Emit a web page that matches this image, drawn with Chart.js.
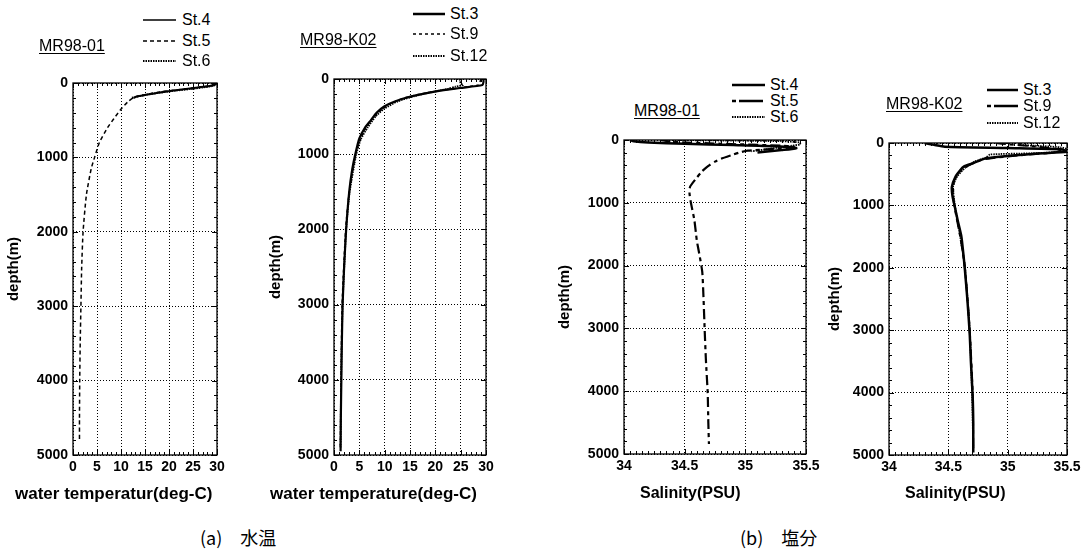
<!DOCTYPE html>
<html><head><meta charset="utf-8">
<script src="https://cdn.jsdelivr.net/npm/chart.js@4"></script>
<style>
body{margin:0;width:1089px;height:550px;background:#fff;position:relative;overflow:hidden;font-family:"Liberation Sans",Arial,sans-serif;}
canvas{position:absolute}
.t{position:absolute;white-space:nowrap;color:#000;line-height:1}
.u{text-decoration:underline;text-underline-offset:2px;font-size:16px}
.lg{font-size:16px}
.xt{font-weight:bold}
.cap{font-family:"Noto Sans CJK JP","Liberation Sans",sans-serif;font-size:18px}
svg{position:absolute}
</style></head><body>
<canvas id="c1"></canvas><canvas id="c2"></canvas><canvas id="c3"></canvas><canvas id="c4"></canvas>
<script>
// ---------- tick labels ----------
const tempTicks = ['0','5','10','15','20','25','30'];
const salTicks = ['34','34.5','35','35.5'];
const depthTicks = ['0','1000','2000','3000','4000','5000'];

// ---------- (a) water temperature, MR98-01 ----------
const p1St4Depth = [0,20,40,60,80,100,120,150,180,200];
const p1St4Temp  = [29.8,29.6,28.5,26.0,23.5,21.0,18.8,15.8,13.5,12.6];
const p1St5Depth = [0,30,60,90,120,160,190,255,360,480,600,800,1000,1150,1500,2000,2500,3000,3500,4000,4500,4800];
const p1St5Temp  = [29.5,29.0,26.0,22.0,18.2,14.7,12.8,11.4,9.9,8.5,7.2,5.5,4.5,3.8,2.8,2.1,1.8,1.65,1.5,1.4,1.35,1.35];
const p1St6Depth = [0,20,40,60,80,100,130,160,200];
const p1St6Temp  = [29.9,29.7,29.0,27.0,24.5,21.5,18.0,15.0,12.2];

// ---------- (a) water temperature, MR98-K02 ----------
const p2St3Depth = [0,40,80,120,167,233,300,366,450,546,650,790,1000,1200,1500,2000,2500,3000,3500,4000,4500,4950];
const p2St3Temp  = [29.5,29.5,29.3,24.9,19.9,15.1,12.0,9.9,8.4,7.3,6.1,5.0,4.2,3.6,3.0,2.4,2.0,1.7,1.55,1.45,1.35,1.3];
const p2St9Depth = [0,40,80,110,150,200,260,340,430,530,650,800,1000,1500,2000,3000,4000,4900];
const p2St9Temp  = [29.0,28.8,28.5,25.5,21.5,17.0,13.5,10.8,9.0,7.6,6.3,5.2,4.3,3.0,2.3,1.6,1.4,1.25];
const p2St12Depth = [0,30,60,80,100,130,170,230,300,400,500,650,800,1000,1500,2000,3000,4000,4900];
const p2St12Temp  = [24.8,24.9,25.0,25.5,24.0,22.5,19.5,15.8,12.5,9.8,8.2,6.6,5.3,4.4,3.1,2.4,1.7,1.4,1.3];

// ---------- (b) salinity, MR98-01 ----------
const p3St4Depth = [0,20,40,60,80,100,130,160,200];
const p3St4Sal   = [34.05,34.08,34.2,34.5,34.9,35.25,35.42,35.3,35.1];
const p3St5Depth = [0,30,60,90,110,140,170,200,239,300,345,420,504,600,742,850,985,1277,1600,1808,2100,2500,3030,3500,4040,4500,4840];
const p3St5Sal   = [34.3,34.4,34.8,35.3,35.4,35.25,35.02,34.95,34.89,34.8,34.75,34.69,34.64,34.6,34.545,34.54,34.55,34.58,34.6,34.62,34.645,34.655,34.665,34.675,34.69,34.695,34.7];
const p3St6Depth = [0,10,20,40,70,100,140,180];
const p3St6Sal   = [34.4,34.9,35.3,35.45,35.45,35.35,35.2,35.05];

// ---------- (b) salinity, MR98-K02 ----------
const p4St3Depth = [0,30,60,80,100,140,170,245,330,380,437,540,700,850,1025,1250,1500,1750,2040,2500,3050,3500,4060,4500,4960];
const p4St3Sal   = [34.3,34.38,34.47,35.0,35.45,35.5,35.25,34.82,34.7,34.63,34.6,34.56,34.53,34.535,34.555,34.58,34.61,34.625,34.64,34.66,34.68,34.69,34.705,34.71,34.71];
const p4St9Depth = [0,20,50,80,110,150,190,260,350,450,600,800,1000,1500,2000,3000,4000,4900];
const p4St9Sal   = [34.9,35.0,35.2,35.35,35.45,35.4,35.15,34.8,34.68,34.6,34.55,34.54,34.55,34.6,34.64,34.68,34.705,34.71];
const p4St12Depth = [0,30,50,70,100,140,165,185,230,300,400,550,700,1000,1500,2000,3000,4000,4900];
const p4St12Sal   = [35.1,35.1,35.3,35.45,35.5,35.45,35.2,34.85,34.82,34.72,34.64,34.57,34.54,34.555,34.6,34.64,34.68,34.7,34.71];

function pts(vals, depth){ return depth.map((d,i)=>({x:vals[i], y:d})); }

const framePlugin = {
  id:'frame',
  afterDraw(chart, args, o){
    const {ctx, chartArea:a, scales:{x,y}} = chart;
    ctx.save();
    ctx.strokeStyle='#000'; ctx.setLineDash([]);
    ctx.lineWidth=1;
    const nx = Math.round((x.max-x.min)/o.xMinor);
    for(let i=0;i<=nx;i++){
      const v=x.min+i*o.xMinor, px=Math.round(x.getPixelForValue(v))+0.5;
      const len = (i % o.xEvery===0)?5:3;
      ctx.beginPath(); ctx.moveTo(px,a.top); ctx.lineTo(px,a.top+len);
      ctx.moveTo(px,a.bottom); ctx.lineTo(px,a.bottom-len); ctx.stroke();
    }
    const ny = Math.round((y.max-y.min)/o.yMinor);
    for(let i=0;i<=ny;i++){
      const v=y.min+i*o.yMinor, py=Math.round(y.getPixelForValue(v))+0.5;
      const len = (i % o.yEvery===0)?5:3;
      ctx.beginPath(); ctx.moveTo(a.left,py); ctx.lineTo(a.left+len,py);
      ctx.moveTo(a.right,py); ctx.lineTo(a.right-len,py); ctx.stroke();
    }
    ctx.lineWidth=1.3;
    ctx.strokeRect(a.left,a.top,a.right-a.left,a.bottom-a.top);
    ctx.restore();
  }
};

const BOTTOM = 485;
function makeChart(id, c){
  const cv = document.getElementById(id);
  const W = c.plot.r + 25 - c.left, H = BOTTOM - c.top;
  cv.width=W; cv.height=H; cv.style.left=c.left+'px'; cv.style.top=c.top+'px';
  const gridOpts = {color:'#000', lineWidth:1, drawTicks:false};
  const borderOpts = {display:false, dash:[1,2]};
  new Chart(cv, {
    type:'scatter',
    data:{datasets:c.datasets.map(d=>({
      data:d.data, showLine:true, borderColor:'#000', backgroundColor:'#000',
      borderWidth:d.w, borderDash:d.dash||[], pointRadius:0, tension:0.2, fill:false
    }))},
    options:{
      responsive:false, animation:false, devicePixelRatio:1,
      layout:{padding:{left:0, top:c.plot.t-c.top, right:c.left+W-c.plot.r, bottom:0}},
      plugins:{legend:{display:false}, tooltip:{enabled:false},
        frame:{xMinor:c.xMinor, xEvery:c.xEvery, yMinor:200, yEvery:5}},
      scales:{
        x:{type:'linear', min:c.xmin, max:c.xmax, grid:gridOpts, border:borderOpts,
          ticks:{stepSize:c.xstep, padding:4, color:'#000', font:{family:'Liberation Sans', size:14, weight:'bold'},
            maxRotation:0, autoSkip:false, callback:v=>c.xLabels[Math.round((v-c.xmin)/c.xstep)]},
          afterFit:s=>{s.height = BOTTOM - c.plot.b;}},
        y:{type:'linear', reverse:true, min:0, max:5000, grid:gridOpts, border:borderOpts,
          ticks:{stepSize:1000, padding:5, color:'#000', font:{family:'Liberation Sans', size:14, weight:'bold'},
            autoSkip:false, callback:v=>depthTicks[Math.round(v/1000)]},
          title:{display:true, text:'depth(m)', color:'#000', padding:{top:1,bottom:0},
            font:{family:'Liberation Sans', size:15, weight:'bold'}},
          afterFit:s=>{s.width = c.plot.l - c.left;}}
      }
    },
    plugins:[framePlugin]
  });
}

makeChart('c1', {left:4, top:68, plot:{l:73,t:83,r:217,b:455}, xmin:0,xmax:30,xstep:5,xMinor:1,xEvery:5, xLabels:tempTicks,
  datasets:[{data:pts(p1St4Temp,p1St4Depth), w:2},
            {data:pts(p1St5Temp,p1St5Depth), w:1.5, dash:[4,3]},
            {data:pts(p1St6Temp,p1St6Depth), w:2, dash:[1.5,1]}]});
makeChart('c2', {left:266, top:64, plot:{l:334,t:79,r:486,b:455}, xmin:0,xmax:30,xstep:5,xMinor:1,xEvery:5, xLabels:tempTicks,
  datasets:[{data:pts(p2St3Temp,p2St3Depth), w:2.2},
            {data:pts(p2St9Temp,p2St9Depth), w:1.5, dash:[3,3]},
            {data:pts(p2St12Temp,p2St12Depth), w:1.8, dash:[1.5,1]}]});
makeChart('c3', {left:555, top:125, plot:{l:624,t:140,r:806,b:454}, xmin:34,xmax:35.5,xstep:0.5,xMinor:0.05,xEvery:10, xLabels:salTicks,
  datasets:[{data:pts(p3St4Sal,p3St4Depth), w:2.5},
            {data:pts(p3St5Sal,p3St5Depth), w:2.2, dash:[10,4,4,4]},
            {data:pts(p3St6Sal,p3St6Depth), w:1.8, dash:[1.5,1]}]});
makeChart('c4', {left:825, top:128, plot:{l:889,t:143,r:1067,b:455}, xmin:34,xmax:35.5,xstep:0.5,xMinor:0.05,xEvery:10, xLabels:salTicks,
  datasets:[{data:pts(p4St3Sal,p4St3Depth), w:2.5},
            {data:pts(p4St9Sal,p4St9Depth), w:2, dash:[10,4,4,4]},
            {data:pts(p4St12Sal,p4St12Depth), w:1.8, dash:[1.5,1]}]});

// ---------- text: panel titles, legends, axis titles, captions ----------
function txt(s, x, y, cls, extra){
  const d=document.createElement('div'); d.className='t '+cls; d.textContent=s;
  d.style.left=x+'px'; d.style.top=y+'px'; if(extra) Object.assign(d.style, extra);
  document.body.appendChild(d); return d;
}
function centerY(el, cy){ el.style.top=(cy - el.offsetHeight/2)+'px'; }
function legLine(x1,x2,y,w,dash){
  const s=document.createElementNS('http://www.w3.org/2000/svg','svg');
  s.setAttribute('width',x2-x1+2); s.setAttribute('height',8);
  s.style.left=(x1-1)+'px'; s.style.top=(y-4)+'px';
  const l=document.createElementNS('http://www.w3.org/2000/svg','line');
  l.setAttribute('x1',1); l.setAttribute('x2',x2-x1+1); l.setAttribute('y1',4); l.setAttribute('y2',4);
  l.setAttribute('stroke','#000'); l.setAttribute('stroke-width',w);
  if(dash) l.setAttribute('stroke-dasharray',dash.join(' '));
  s.appendChild(l); document.body.appendChild(s);
}
const legends = [
  {lx1:143,lx2:176,tx:182,ys:[20,41,61],names:['St.4','St.5','St.6'],styles:[[1.5,null],[1.5,[4,3]],[2,[1.5,1]]]},
  {lx1:413,lx2:445,tx:450,ys:[14,34,56],names:['St.3','St.9','St.12'],styles:[[2.5,null],[1.5,[3,3]],[2,[1.5,1]]]},
  {lx1:732,lx2:765,tx:770,ys:[85,101,117],names:['St.4','St.5','St.6'],styles:[[2.5,null],[2.5,[4,3,20,0]],[2,[1.5,1]]]},
  {lx1:987,lx2:1018,tx:1023,ys:[90,106,123],names:['St.3','St.9','St.12'],styles:[[2.5,null],[2.5,[4,3,20,0]],[2,[1.5,1]]]}
];
legends.forEach(L=>{
  L.ys.forEach((y,i)=>{
    legLine(L.lx1,L.lx2,y,L.styles[i][0],L.styles[i][1]);
    centerY(txt(L.names[i], L.tx, 0, 'lg'), y);
  });
});
centerY(txt('MR98-01', 39, 0, 'u'), 46);
centerY(txt('MR98-K02', 300, 0, 'u'), 40);
centerY(txt('MR98-01', 634, 0, 'u'), 111);
centerY(txt('MR98-K02', 886, 0, 'u'), 104);

centerY(txt('water temperatur(deg-C)', 15, 0, 'xt', {fontSize:'17px'}), 493);
centerY(txt('water temperature(deg-C)', 270, 0, 'xt', {fontSize:'17px'}), 493);
centerY(txt('Salinity(PSU)', 640, 0, 'xt', {fontSize:'16px'}), 493);
centerY(txt('Salinity(PSU)', 905, 0, 'xt', {fontSize:'16px'}), 493);

centerY(txt('(a)\u3000水温', 200, 0, 'cap'), 537);
centerY(txt('(b)\u3000塩分', 740, 0, 'cap'), 537);
</script>
</body></html>
